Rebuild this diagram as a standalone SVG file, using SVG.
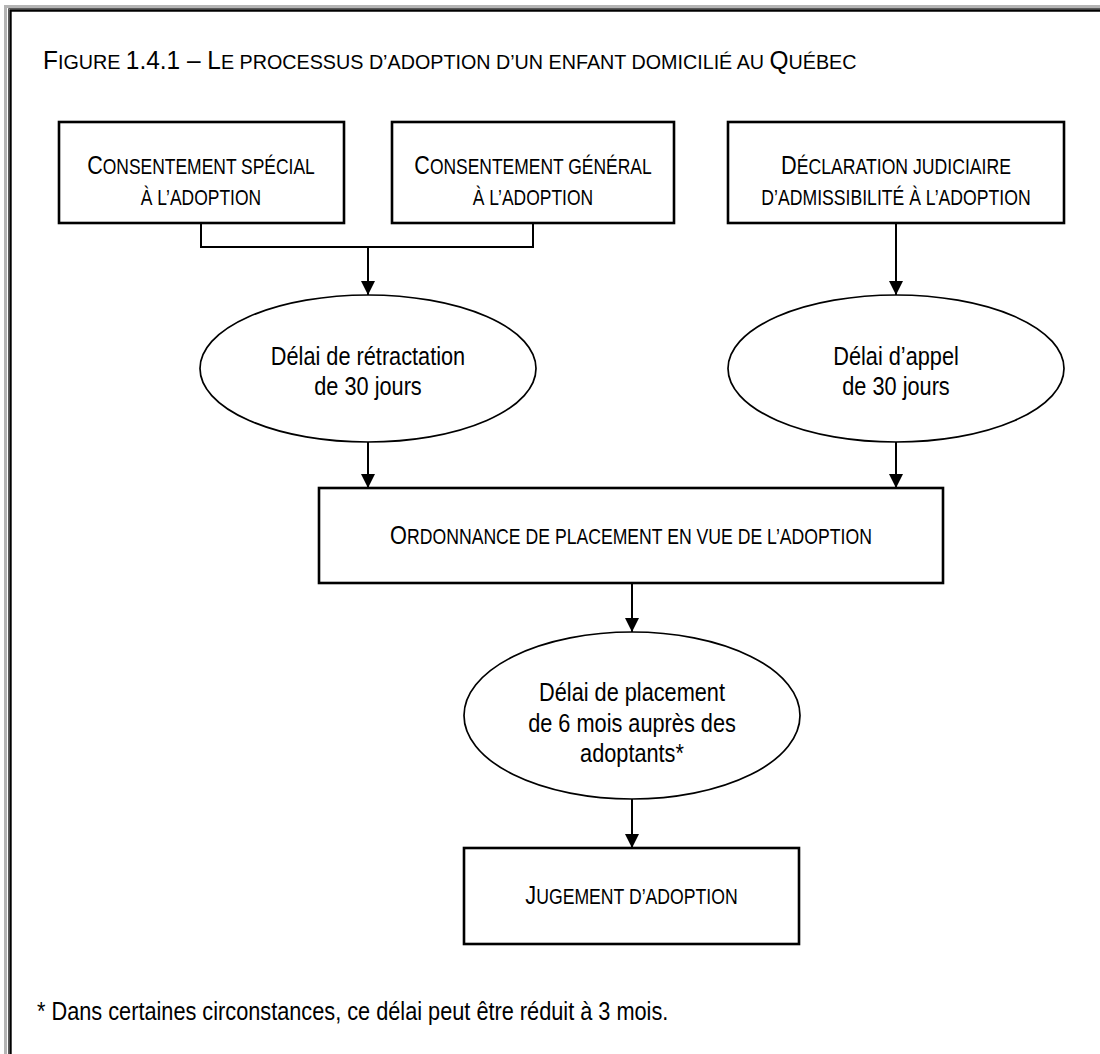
<svg xmlns="http://www.w3.org/2000/svg" width="1100" height="1054" viewBox="0 0 1100 1054">
  <defs>
    <marker id="arrow" markerUnits="userSpaceOnUse" markerWidth="14" markerHeight="14" refX="14" refY="7" orient="auto">
      <path d="M0,0 L14,7 L0,14 Z" fill="#000"/>
    </marker>
    <style>
      /* narrow sans: Arial metrics squeezed horizontally (Arial Narrow is ~82% of Arial) */
      text { font-family: "Liberation Sans", Arial, sans-serif; fill: #000; }
      .mid { text-anchor: middle; }
      .cap { font-size: 26.5px; }
      .sc { font-size: 21.5px; }
      .tcap { font-size: 26px; }
      .tsc { font-size: 21px; }
      .body { font-size: 26.5px; }
      .box { fill: #fff; stroke: #000; stroke-width: 2.6; }
      .oval { fill: #fff; stroke: #000; stroke-width: 1.7; }
      .link { fill: none; stroke: #000; stroke-width: 2; }
      .arrow { fill: none; stroke: #000; stroke-width: 2; marker-end: url(#arrow); }
    </style>
  </defs>

  <rect width="1100" height="1054" fill="#fff"/>

  <!-- page frame (open on the right and bottom) -->
  <g id="frame" fill="none">
    <path d="M5.5,1054 V6.5 H1100" stroke="#b4b4b4" stroke-width="3"/>
    <path d="M8.5,1054 V8.5 H1100" stroke="#5a5a5a" stroke-width="1"/>
    <path d="M10.5,1054 V10.5 H1100" stroke="#000" stroke-width="2.4"/>
  </g>

  <text id="title" transform="translate(43 69) scale(0.94 1)"><tspan class="tcap">F</tspan><tspan class="tsc">IGURE </tspan><tspan class="tcap">1.4.1 – L</tspan><tspan class="tsc">E PROCESSUS D’ADOPTION D’UN ENFANT DOMICILIÉ AU </tspan><tspan class="tcap">Q</tspan><tspan class="tsc">UÉBEC</tspan></text>

  <g id="connectors">
    <path class="link" d="M201,223 V247 H533 V223"/>
    <path class="arrow" d="M368,247 V295"/>
    <path class="arrow" d="M896,224 V295"/>
    <path class="arrow" d="M368,442 V488"/>
    <path class="arrow" d="M896,442 V488"/>
    <path class="arrow" d="M632,583 V632"/>
    <path class="arrow" d="M632,799 V848"/>
  </g>

  <g id="consentement-special">
    <rect class="box" x="59" y="122" width="285" height="101"/>
    <text class="mid" transform="translate(201 174) scale(0.812 1)"><tspan class="cap">C</tspan><tspan class="sc">ONSENTEMENT SPÉCIAL</tspan></text>
    <text class="mid sc" transform="translate(201 205) scale(0.812 1)">À L’ADOPTION</text>
  </g>

  <g id="consentement-general">
    <rect class="box" x="392" y="122" width="282" height="101"/>
    <text class="mid" transform="translate(533 174) scale(0.812 1)"><tspan class="cap">C</tspan><tspan class="sc">ONSENTEMENT GÉNÉRAL</tspan></text>
    <text class="mid sc" transform="translate(533 205) scale(0.812 1)">À L’ADOPTION</text>
  </g>

  <g id="declaration-judiciaire">
    <rect class="box" x="728" y="122" width="336" height="101"/>
    <text class="mid" transform="translate(896 174) scale(0.82 1)"><tspan class="cap">D</tspan><tspan class="sc">ÉCLARATION JUDICIAIRE</tspan></text>
    <text class="mid sc" transform="translate(896 205) scale(0.82 1)">D’ADMISSIBILITÉ À L’ADOPTION</text>
  </g>

  <g id="delai-retractation">
    <ellipse class="oval" cx="368" cy="368.5" rx="168" ry="73.5"/>
    <text class="mid body" transform="translate(368 365) scale(0.82 1)">Délai de rétractation</text>
    <text class="mid body" transform="translate(368 395) scale(0.82 1)">de 30 jours</text>
  </g>

  <g id="delai-appel">
    <ellipse class="oval" cx="896" cy="368.5" rx="168" ry="73.5"/>
    <text class="mid body" transform="translate(896 365) scale(0.82 1)">Délai d’appel</text>
    <text class="mid body" transform="translate(896 395) scale(0.82 1)">de 30 jours</text>
  </g>

  <g id="ordonnance-placement">
    <rect class="box" x="319" y="488" width="624" height="95"/>
    <text class="mid" transform="translate(631 544) scale(0.82 1)"><tspan class="cap">O</tspan><tspan class="sc">RDONNANCE DE PLACEMENT EN VUE DE L’ADOPTION</tspan></text>
  </g>

  <g id="delai-placement">
    <ellipse class="oval" cx="632" cy="715.5" rx="168" ry="83.5"/>
    <text class="mid body" transform="translate(632 701) scale(0.82 1)">Délai de placement</text>
    <text class="mid body" transform="translate(632 732) scale(0.82 1)">de 6 mois auprès des</text>
    <text class="mid body" transform="translate(632 762) scale(0.82 1)">adoptants*</text>
  </g>

  <g id="jugement-adoption">
    <rect class="box" x="464" y="848" width="335" height="96"/>
    <text class="mid" transform="translate(631.5 904) scale(0.82 1)"><tspan class="cap">J</tspan><tspan class="sc">UGEMENT D’ADOPTION</tspan></text>
  </g>

  <text id="footnote" class="body" transform="translate(37 1020) scale(0.82 1)">* Dans certaines circonstances, ce délai peut être réduit à 3 mois.</text>
</svg>
